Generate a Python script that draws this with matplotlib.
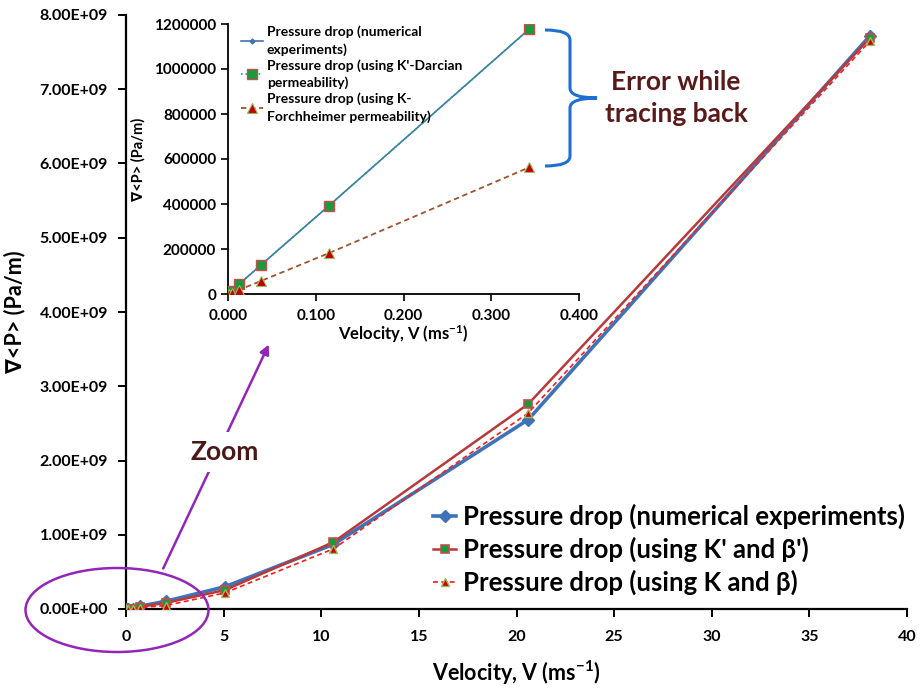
import matplotlib
matplotlib.use("Agg")
import matplotlib.pyplot as plt
import numpy as np
from matplotlib.patches import Ellipse, PathPatch
from matplotlib.path import Path
from matplotlib.ticker import FuncFormatter, MultipleLocator

plt.rcParams['font.family'] = ['Lato', 'DejaVu Sans']
plt.rcParams['font.weight'] = 'bold'
plt.rcParams['mathtext.fontset'] = 'custom'
plt.rcParams['mathtext.rm'] = 'Lato:bold'
plt.rcParams['mathtext.it'] = 'Lato:bold'
plt.rcParams['mathtext.bf'] = 'Lato:bold'

# main chart data (velocity in m/s, pressure gradient in Pa/m)
velocity = [0.0013, 0.0042, 0.0125, 0.0376, 0.1146, 0.3434, 0.72, 2.05, 5.07, 10.62, 20.6, 38.1]
dp_numerical = [4.4e3, 1.44e4, 4.3e4, 1.29e5, 3.91e5, 1.178e6, 3.8e7, 1.05e8, 3.0e8, 8.7e8, 2.55e9, 7.72e9]
dp_k_beta_prime = [4.4e3, 1.44e4, 4.3e4, 1.29e5, 3.91e5, 1.178e6, 3.0e7, 8.3e7, 2.55e8, 9.0e8, 2.76e9, 7.69e9]
dp_k_beta = [2.0e3, 6.5e3, 1.9e4, 5.8e4, 1.81e5, 5.63e5, 2.0e7, 4.7e7, 2.18e8, 8.1e8, 2.64e9, 7.65e9]

# inset data (low velocity range)
velocity_low = [0.0013, 0.0042, 0.0125, 0.0376, 0.1146, 0.3434]
dp_low_numerical = [4.4e3, 1.44e4, 4.3e4, 1.29e5, 3.91e5, 1.178e6]
dp_low_darcian = [4.4e3, 1.44e4, 4.4e4, 1.29e5, 3.91e5, 1.178e6]
dp_low_forchheimer = [2.0e3, 6.5e3, 1.8e4, 5.8e4, 1.81e5, 5.63e5]

W, H = 921, 689
fig = plt.figure(figsize=(W / 100, H / 100), dpi=100)


def fx(px):
    return px / W


def fy(py):
    return 1 - py / H


# main axes
ax = fig.add_axes([fx(126), fy(609), fx(907) - fx(126), fy(15) - fy(609)])
ax.plot(velocity, dp_numerical, color='#3f73b8', lw=2.6, marker='D', ms=6,
        mfc='#3f73b8', mec='#3f73b8', label='Pressure drop (numerical experiments)', zorder=3)
ax.plot(velocity, dp_k_beta_prime, color='#b8393a', lw=1.8, marker='s', ms=6,
        mfc='#1a9a3a', mec='#c0504d', mew=1.2, label="Pressure drop (using K' and β')", zorder=4)
ax.plot(velocity, dp_k_beta, color='#ff1a1a', lw=1.2, ls=(0, (3, 2)), marker='^', ms=6,
        mfc='#d00000', mec='#9bbb59', mew=1.0, label='Pressure drop (using K and β)', zorder=5)

ax.set_xlim(0, 40)
ax.set_ylim(0, 8e9)
ax.xaxis.set_major_locator(MultipleLocator(5))
ax.yaxis.set_major_locator(MultipleLocator(1e9))
ax.yaxis.set_major_formatter(FuncFormatter(lambda v, p: f"{v:.2E}"))
ax.xaxis.set_major_formatter(FuncFormatter(lambda v, p: f"{v:.0f}"))
for s in ['top', 'right']:
    ax.spines[s].set_visible(False)
for s in ['left', 'bottom']:
    ax.spines[s].set_linewidth(1.6)
ax.tick_params(direction='out', length=6, width=1.4, labelsize=11.5, pad=7)
ax.tick_params(axis='x', pad=9)
ax.set_xlabel(r'Velocity, V (ms$^{-1}$)', fontsize=15.5, fontweight='bold', labelpad=11)
ax.set_ylabel('∇<P> (Pa/m)', fontsize=15.5, fontweight='bold', labelpad=10)

leg = ax.legend(loc='upper left', bbox_to_anchor=(fx(423 - 126) / (fx(907) - fx(126)), 0.195),
                frameon=False, fontsize=18.5, handlelength=0.9, handletextpad=0.25,
                labelspacing=0.3, borderaxespad=0)

# inset axes
axi = fig.add_axes([fx(228), fy(294), fx(579) - fx(228), fy(24) - fy(294)])
axi.set_facecolor('white')
axi.plot(velocity_low, dp_low_numerical, color='#3f73b8', lw=1.2, marker='D', ms=2.5,
         label='Pressure drop (numerical\nexperiments)', zorder=3)
axi.plot(velocity_low, dp_low_darcian, color='#2aa07a', lw=1.2, ls=':', marker='s', ms=7,
         mfc='#1a9a3a', mec='#c0504d', mew=1.0,
         label="Pressure drop (using K'-Darcian\npermeability)", zorder=4)
axi.plot(velocity_low, dp_low_forchheimer, color='#a0522d', lw=1.3, ls=(0, (3, 2)), marker='^', ms=7,
         mfc='#c00000', mec='#9bbb59', mew=0.8,
         label='Pressure drop (using K-\nForchheimer permeability)', zorder=5)
axi.set_xlim(0, 0.4)
axi.set_ylim(0, 1.2e6)
axi.xaxis.set_major_locator(MultipleLocator(0.1))
axi.yaxis.set_major_locator(MultipleLocator(2e5))
axi.xaxis.set_major_formatter(FuncFormatter(lambda v, p: f"{v:.3f}"))
axi.yaxis.set_major_formatter(FuncFormatter(lambda v, p: f"{v:.0f}"))
for s in ['top', 'right']:
    axi.spines[s].set_visible(False)
for s in ['left', 'bottom']:
    axi.spines[s].set_linewidth(1.3)
axi.tick_params(direction='out', length=5, width=1.2, labelsize=11)
axi.tick_params(axis='x', pad=6)
axi.set_xlabel(r'Velocity, V (ms$^{-1}$)', fontsize=12, fontweight='bold', labelpad=0)
axi.set_ylabel('∇<P> (Pa/m)', fontsize=10.5, fontweight='bold', labelpad=6)
ileg = axi.legend(loc='upper left', bbox_to_anchor=(0.02, 1.015), frameon=False, fontsize=10,
                  handlelength=1.6, handletextpad=0.3, labelspacing=0.25, borderaxespad=0)
for t in ileg.get_texts():
    t.set_linespacing(1.45)

# zoom ellipse and arrow
ell = Ellipse((fx(117), fy(610)), fx(183), 84 / H, transform=fig.transFigure,
              fill=False, ec='#9226b8', lw=1.8, zorder=10)
fig.patches.append(ell)
ax.annotate('', xy=(fx(270), fy(342)), xytext=(fx(162), fy(571)),
            xycoords='figure fraction', textcoords='figure fraction',
            arrowprops=dict(arrowstyle='-|>', color='#9226b8', lw=1.8, mutation_scale=14))
fig.text(fx(225), fy(452), 'Zoom', fontsize=19, fontweight='bold', color='#4a1818',
         ha='center', va='center', zorder=20,
         bbox=dict(facecolor='white', edgecolor='none', pad=6))

# curly brace for the error
bx, by0, by1, tipx, tipy = 545, 30, 166, 597, 98
vx = 570
verts = [(bx, by0), (vx, by0), (vx, by0 + 10),
         (vx, tipy - 10),
         (vx, tipy), (tipx, tipy),
         (vx, tipy), (vx, tipy + 10),
         (vx, by1 - 10),
         (vx, by1), (bx, by1)]
codes = [Path.MOVETO, Path.CURVE3, Path.CURVE3,
         Path.LINETO,
         Path.CURVE3, Path.CURVE3,
         Path.CURVE3, Path.CURVE3,
         Path.LINETO,
         Path.CURVE3, Path.CURVE3]
brace = Path([(fx(x), fy(y)) for x, y in verts], codes)
fig.patches.append(PathPatch(brace, transform=fig.transFigure, fill=False,
                             ec='#1f6fd0', lw=2.2, zorder=10))
fig.text(fx(676), fy(98), 'Error while\ntracing back', fontsize=19, fontweight='bold',
         color='#5a1a1a', ha='center', va='center', linespacing=1.35)

fig.savefig('out.png', dpi=100)
